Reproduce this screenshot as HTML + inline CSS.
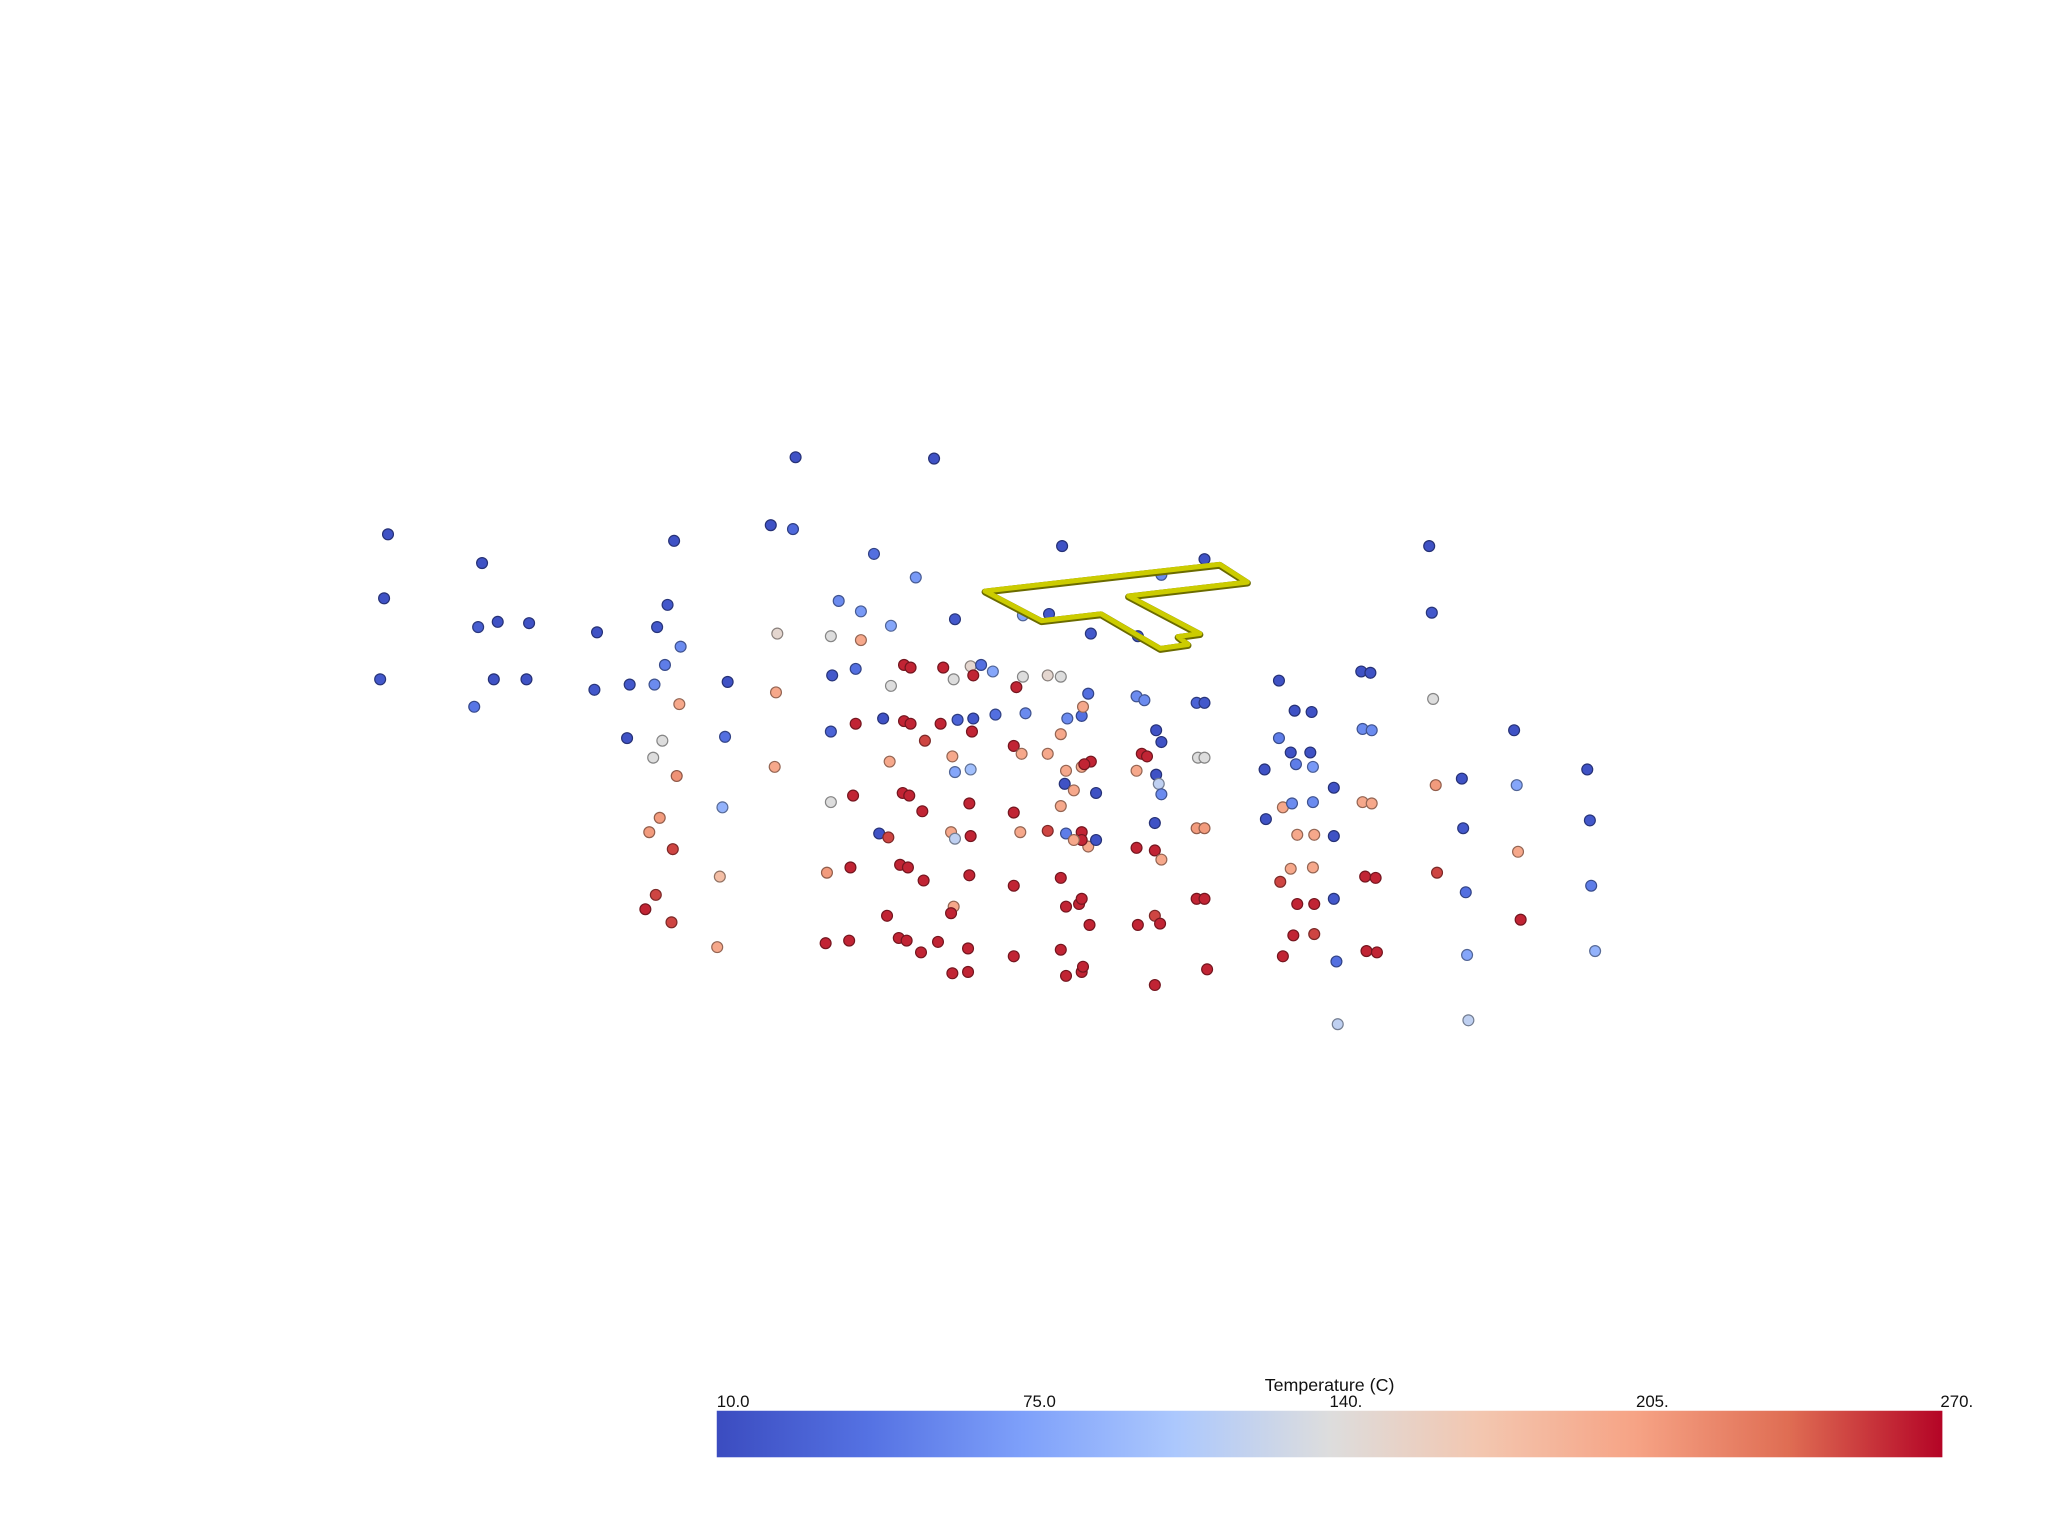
<!DOCTYPE html>
<html><head><meta charset="utf-8"><style>
html,body{margin:0;padding:0;background:#fff;width:2048px;height:1536px;overflow:hidden}
svg text{font-family:"Liberation Sans",sans-serif;fill:#111}
</style></head><body>
<svg id="chart" width="2048" height="1536" viewBox="0 0 2048 1536" xmlns="http://www.w3.org/2000/svg">
<defs>
<linearGradient id="cw" x1="0" x2="1" y1="0" y2="0">
<stop offset="0" stop-color="rgb(59,76,192)"/><stop offset="0.125" stop-color="rgb(85,114,227)"/>
<stop offset="0.25" stop-color="rgb(126,160,250)"/><stop offset="0.375" stop-color="rgb(172,200,253)"/>
<stop offset="0.5" stop-color="rgb(221,221,221)"/><stop offset="0.625" stop-color="rgb(243,198,175)"/>
<stop offset="0.75" stop-color="rgb(246,163,133)"/><stop offset="0.875" stop-color="rgb(223,109,83)"/>
<stop offset="1" stop-color="rgb(180,4,38)"/>
</linearGradient>
</defs>
<g transform="scale(0.99)">
<g id="points"></g>
<polygon points="995,597 1232,570 1260,588 1140,602 1212,640 1190,643 1200,651 1172,655 1112,620 1052,627" fill="none" stroke="#6b6b00" stroke-width="7" stroke-linejoin="round" transform="translate(0,1)"/>
<polygon points="995,597 1232,570 1260,588 1140,602 1212,640 1190,643 1200,651 1172,655 1112,620 1052,627" fill="none" stroke="#cccc00" stroke-width="5" stroke-linejoin="round"/>
<g>
<text x="1343" y="1405" font-size="18" text-anchor="middle">Temperature (C)</text>
<rect x="724" y="1425" width="1238" height="47" fill="url(#cw)"/>
<g id="ticks"></g>
</g>
</g>
</svg>
<script>
const xs=[609,715,297,369,294,366,381,405,291,363,378,403,457,455,482,516,511,503,521,509,501,520,480,507,500,518,505,497,515,502,494,514,557,555,553,551,549,590,607,669,701,642,659,595,636,659,682,594,637,655,682,593,636,655,676,692,697,708,681,636,653,691,696,706,673,680,633,651,689,695,707,679,632,650,688,694,705,692,697,722,743,751,730,745,760,731,783,802,812,778,720,733,745,762,744,729,743,731,785,803,783,776,782,802,812,813,817,828,833,829,816,828,835,830,815,839,822,776,781,802,812,728,731,743,742,828,833,828,816,822,839,742,776,812,730,728,816,826,828,834,741,718,729,741,776,812,816,828,829,835,889,871,922,870,876,885,889,916,922,874,878,870,885,887,889,917,922,884,916,922,870,884,889,916,922,884,888,871,884,924,979,991,1004,979,988,1003,968,992,1005,982,989,1005,1021,969,993,1006,1021,988,1005,980,993,1006,1021,990,1006,982,1023,1024,1042,1049,1043,1050,1043,1050,1045,1053,1046,1054,1094,1096,1097,1099,1100,1119,1120,1122,1123,1124,1159,1161,1162,1164,1215,1217,1218,1221];
const ys=[350,351,409,431,458,480,476,477,520,541,520,520,484,528,524,414,463,480,495,509,524,539,565,567,580,594,626,637,650,685,696,706,522,564,618,671,725,402,405,424,442,460,468,485,487,490,479,530,517,512,525,587,560,554,550,552,554,567,583,614,609,607,609,621,638,641,668,664,662,664,674,701,722,720,718,720,729,509,511,511,510,509,520,517,514,474,518,517,518,526,554,551,550,547,560,579,589,591,546,470,471,571,577,577,562,418,550,548,531,541,590,587,583,585,600,607,605,622,637,636,617,637,642,640,615,637,648,643,638,643,643,670,678,672,694,699,694,692,688,708,726,721,745,744,732,727,747,744,740,485,440,487,428,533,536,559,568,538,538,577,579,590,593,600,608,580,580,630,634,634,649,651,658,688,688,701,707,708,754,742,521,544,545,565,576,576,589,585,587,618,615,614,603,627,639,639,640,665,664,675,692,692,688,716,715,732,736,784,514,515,558,559,614,615,671,672,728,729,418,469,535,601,668,596,634,683,731,781,559,601,652,704,589,628,678,728];
const temps=[15,15,15,15,15,25,15,15,20,45,15,15,15,20,20,15,20,20,60,50,60,200,15,140,140,215,210,210,250,250,260,250,15,40,90,180,200,15,35,40,70,60,70,150,140,200,80,200,20,40,140,200,30,260,15,260,260,250,200,140,260,260,260,260,15,250,210,260,260,260,260,260,260,260,260,260,260,260,260,260,150,40,140,260,80,20,140,150,140,260,260,30,20,40,260,200,100,80,60,20,80,260,200,200,200,15,60,40,40,200,200,200,260,260,15,15,200,260,200,250,200,200,120,260,260,260,200,260,50,200,15,260,260,260,200,260,260,260,260,260,260,260,260,260,260,260,260,260,260,20,60,20,15,60,60,15,15,30,20,260,260,200,15,120,60,140,140,15,210,210,260,260,200,260,260,250,260,260,260,260,15,15,15,50,15,15,15,50,70,200,60,60,15,15,200,200,15,200,200,250,260,260,20,260,250,260,40,120,15,15,60,60,200,200,260,260,260,260,15,20,140,210,250,15,20,40,80,120,15,80,200,260,15,20,50,90];
const tickVals=[10,75,140,205,270];
const tickLabels=["10.0","75.0","140.","205.","270."];
const tMin=10,tMax=270,K=2048/1552;
const sx=v=>v*K, sy=v=>v*K;
const stops=[[59,76,192],[85,114,227],[126,160,250],[172,200,253],[221,221,221],[243,198,175],[246,163,133],[223,109,83],[180,4,38]];
function color(t){let f=Math.max(0,Math.min(1,(t-tMin)/(tMax-tMin)))*8;let i=Math.min(7,Math.floor(f)),r=f-i;
const a=stops[i],b=stops[i+1];return a.map((c,j)=>Math.round(c+(b[j]-c)*r));}
const NS="http://www.w3.org/2000/svg";
const g=document.getElementById('points');
for(let i=0;i<xs.length;i++){
 const c=color(temps[i]);
 const el=document.createElementNS(NS,'circle');
 el.setAttribute('cx',sx(xs[i]));el.setAttribute('cy',sy(ys[i]));el.setAttribute('r',5.5);
 el.setAttribute('fill',`rgb(${c.join(',')})`);
 el.setAttribute('stroke',`rgb(${c.map(v=>Math.round(v*0.6)).join(',')})`);
 el.setAttribute('stroke-width',1.2);
 
 
 g.appendChild(el);
}
const tg=document.getElementById('ticks');
const bx=t=>724+(t-tMin)/(tMax-tMin)*1238;
tickVals.forEach((v,i)=>{
 const tx=document.createElementNS(NS,'text');
 let x=bx(v); if(i===tickVals.length-1)x-=2;
 tx.setAttribute('x',x);tx.setAttribute('y',1421);tx.setAttribute('font-size','17');
 tx.textContent=tickLabels[i];
 
 
 tg.appendChild(tx);
});
</script>
</body></html>
